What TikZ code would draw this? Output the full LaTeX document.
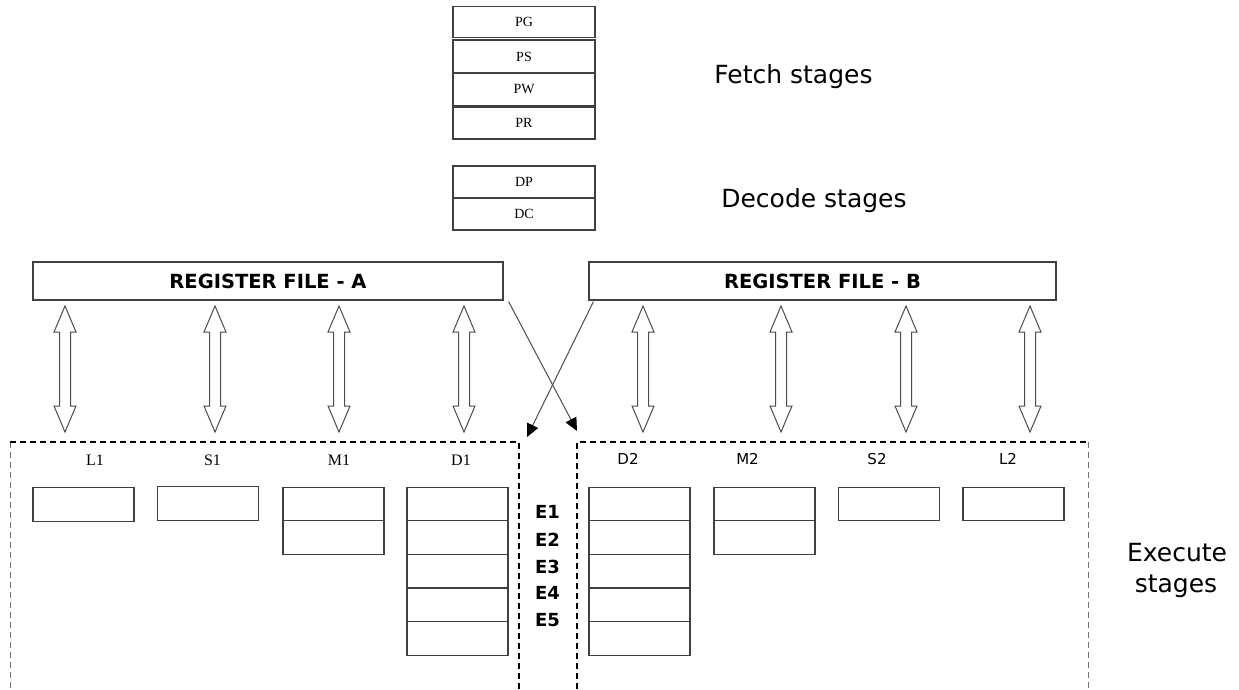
\documentclass[tikz,border=0pt]{standalone}
\usepackage{fontspec}
\setmainfont{DejaVu Sans}
\newfontfamily\smallserif{Liberation Serif}
\usetikzlibrary{arrows.meta,calc}

\tikzset{
  box/.style={draw=black!75, line width=1.2pt, fill=white, inner sep=0pt},
  fetchbox/.style={box, minimum width=142pt, minimum height=32pt,
    font=\smallserif\fontsize{14}{14}\selectfont},
  regfile/.style={box, minimum height=38pt, font=\bfseries\fontsize{19.5}{20}\selectfont},
  unitbox/.style={box, minimum width=101pt, minimum height=33.6pt},
  stagetext/.style={inner sep=0pt, anchor=base, font=\fontsize{25}{30}\selectfont},
  lserif/.style={inner sep=0pt, font=\smallserif\fontsize{16}{16}\selectfont},
  lsans/.style={inner sep=0pt, font=\fontsize{15}{15}\selectfont},
  elabel/.style={inner sep=0pt, font=\bfseries\fontsize{18}{18}\selectfont},
  biarrow/.style={draw=black!70, line width=1pt, fill=white, line join=miter},
  crossarrow/.style={draw=black!70, line width=1pt,
    -{Triangle[length=13pt,width=12pt,color=black]}},
  frameline/.style={draw=black, line width=2pt, dash pattern=on 6pt off 4pt},
  frameside/.style={draw=black!55, line width=0.8pt, dash pattern=on 6pt off 4pt},
}

% hollow double-headed block arrow between two tip points
\newcommand{\blockarrow}[2]{%
  \draw[biarrow] (#1) -- ++(11,26) -- ++(-5.5,0)
    -- ($(#2)+(5.5,-26)$) -- ($(#2)+(11,-26)$) -- (#2)
    -- ($(#2)+(-11,-26)$) -- ($(#2)+(-5.5,-26)$)
    -- ($(#1)+(-5.5,26)$) -- ($(#1)+(-11,26)$) -- cycle;}

\begin{document}
\begin{tikzpicture}[x=1pt,y=-1pt]
\useasboundingbox (0,0) rectangle (1239,689);

% fetch and decode stage boxes
\node[fetchbox, minimum height=31pt] (pg) at (524,22) {PG};
\node[fetchbox, minimum height=33pt] (ps) at (524,56.5) {PS};
\node[fetchbox, minimum height=33pt] (pw) at (524,89.5) {PW};
\node[fetchbox] (pr) at (524,123) {PR};
\node[fetchbox] (dp) at (524,182) {DP};
\node[fetchbox] (dc) at (524,214) {DC};

\node[stagetext] (fetch) at (793.5,83) {Fetch stages};
\node[stagetext] (decode) at (814,207) {Decode stages};
\node[stagetext] (exec1) at (1177,561) {Execute};
\node[stagetext] (exec2) at (1176,592) {stages};

% register files
\node[regfile, minimum width=470pt] (rfa) at (268,281) {REGISTER FILE - A};
\node[regfile, minimum width=467pt] (rfb) at (822.5,281) {REGISTER FILE - B};

% read/write paths between register files and units
\foreach \i/\x in {1/65,2/215,3/339,4/464,5/643,6/781,7/906,8/1030}{
  \coordinate (t\i) at (\x,306);
  \coordinate (b\i) at (\x,432);
  \blockarrow{t\i}{b\i}
}

% cross paths
\coordinate (xa) at (577,431);
\coordinate (xb) at (527,437);
\draw[crossarrow] ([xshift=5pt,yshift=-1pt]rfa.south east) -- (xa);
\draw[crossarrow] ([xshift=5pt,yshift=-1pt]rfb.south west) -- (xb);

% data path frames
\coordinate (fa1) at (10,442);  \coordinate (fa2) at (519,442);
\coordinate (fa3) at (10,689);  \coordinate (fa4) at (519,689);
\coordinate (fb1) at (577,442); \coordinate (fb2) at (1088,442);
\coordinate (fb3) at (577,689); \coordinate (fb4) at (1088,689);
\draw[frameside] (fa1) -- (fa3);
\draw[frameside] (fb2) -- (fb4);
\draw[frameline] (fa1) -- (fa2) -- (fa4);
\draw[frameline] (fb3) -- (fb1) -- (fb2);

% unit labels
\node[lserif] (ll1) at (95,460) {L1};
\node[lserif] (ls1) at (212.5,460) {S1};
\node[lserif] (lm1) at (339,460) {M1};
\node[lserif] (ld1) at (461,460) {D1};
\node[lsans] (ld2) at (628,459) {D2};
\node[lsans] (lm2) at (747.5,459) {M2};
\node[lsans] (ls2) at (877,459) {S2};
\node[lsans] (ll2) at (1008,459) {L2};

% unit pipeline boxes
\node[unitbox] (l1a) at (83.5,504.5) {};
\node[unitbox] (s1a) at (208,503.5) {};
\foreach \k in {1,2}{\node[unitbox] (m1\k) at (333.5,{504+33.6*(\k-1)}) {};}
\foreach \k in {1,...,5}{\node[unitbox] (d1\k) at (457.5,{504+33.6*(\k-1)}) {};}
\foreach \k in {1,...,5}{\node[unitbox] (d2\k) at (639.5,{504+33.6*(\k-1)}) {};}
\foreach \k in {1,2}{\node[unitbox] (m2\k) at (764.5,{504+33.6*(\k-1)}) {};}
\node[unitbox] (s2a) at (889,504) {};
\node[unitbox] (l2a) at (1013.5,504) {};

% execute phase labels
\node[elabel] (e1) at (547.5,512) {E1};
\node[elabel] (e2) at (547.5,540) {E2};
\node[elabel] (e3) at (547.5,567) {E3};
\node[elabel] (e4) at (547.5,593) {E4};
\node[elabel] (e5) at (547.5,620) {E5};
\end{tikzpicture}
\end{document}
